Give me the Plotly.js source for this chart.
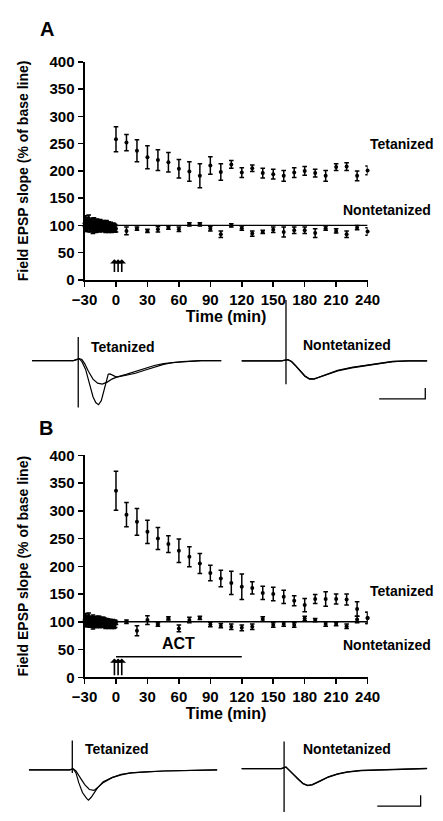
<!DOCTYPE html>
<html><head><meta charset="utf-8">
<script src="https://cdn.plot.ly/plotly-3.0.1.min.js"></script>
<style>html,body{margin:0;padding:0;background:#fff}#chart{width:443px;height:821px}</style>
</head><body><div id="chart"></div>
<script>
// ================= DATA =================
// Time after tetanus (min)
const timePost = [0,10,20,30,40,50,60,70,80,90,100,110,120,130,140,150,160,170,180,190,200,210,220,230,240];
// Base-line recording times (min)
const timeBase = [-30,-29,-28,-27,-26,-25,-24,-23,-22,-21,-20,-19,-18,-17,-16,-15,-14,-13,-12,-11,-10,-9,-8,-7,-6,-5,-4,-3,-2,-1];

// Panel A
const tetA_base    = [104,108,103,106,109,102,105,101,104,106,100,103,105,99,101,104,100,98,102,100,99,101,97,99,98,100,96,98,97,95];
const tetA_baseErr = [9,10,8,9,10,8,8,9,9,8,8,8,7,8,9,7,8,8,7,8,7,8,7,8,7,6,7,6,7,6];
const nonA_base    = [98,100,97,99,101,96,98,100,95,97,99,96,98,100,97,95,98,96,99,97,95,98,96,94,97,95,93,96,94,95];
const nonA_baseErr = [8,9,8,10,9,8,9,8,10,9,8,9,8,9,8,7,8,7,8,7,8,7,8,7,6,7,6,7,6,7];
const tetA    = [258,252,237,225,220,216,204,199,191,210,198,212,197,205,196,194,191,197,200,196,191,207,208,191,201];
const tetAErr = [23,15,20,21,19,18,17,18,22,16,15,7,9,6,9,9,10,9,8,7,10,6,7,9,8];
const nonA    = [94,90,94,90,93,96,93,102,102,94,84,100,95,85,88,92,88,91,91,86,95,90,84,96,89];
const nonAErr = [6,7,3,3,5,3,4,3,3,4,6,3,4,5,3,5,9,6,6,8,4,4,6,4,7];

// Panel B
const tetB_base    = [103,106,102,104,107,101,103,100,104,102,99,103,101,98,102,100,99,101,97,100,98,96,99,97,95,98,96,97,95,96];
const tetB_baseErr = [8,9,7,8,9,7,7,8,8,7,7,7,6,7,8,6,7,7,6,7,6,7,6,7,6,6,7,6,7,6];
const nonB_base    = [99,101,98,100,102,97,99,101,96,98,100,97,99,101,98,96,99,97,100,98,96,99,97,95,98,96,94,97,95,96];
const nonB_baseErr = [7,8,7,9,8,7,8,7,9,8,7,8,7,9,8,7,8,7,8,7,8,7,8,7,6,7,6,7,6,7];
const tetB    = [336,293,280,262,250,240,228,217,205,188,178,170,163,161,152,150,145,138,130,141,141,141,140,123,107];
const tetBErr = [35,22,24,21,20,15,21,18,18,14,15,21,23,11,12,12,12,9,12,8,13,9,10,13,10];
const nonB    = [98,100,84,103,95,106,88,103,107,95,93,91,89,91,105,94,96,94,106,103,96,96,92,104,107];
const nonBErr = [3,3,9,8,3,3,6,5,3,4,4,5,5,5,4,4,4,4,4,3,4,3,4,6,10];

const baseLevel = 100;              // % of base line
const tetanusTimes = [-1.5, 2, 5.5]; // arrows (min)
const actPeriod = [0, 120];          // ACT application (min)
const xTicks = [-30,0,30,60,90,120,150,180,210,240];
const yTicks = [0,50,100,150,200,250,300,350,400];

// Sample field EPSP traces (time in ms, voltage in mV)
const epspATetPre_t  = [-10,-5,-1,0.2,0.8,1.4,2.2,3.2,4.2,5.2,6.3,7.3,8.3,10.4,12.4,14.4,16.5,18.5,20.6,22.6,26.7,31];
const epspATetPre_v  = [0,0,0,0.09,0.05,-0.14,-0.5,-0.86,-1.05,-1.09,-1.0,-0.86,-0.77,-0.64,-0.5,-0.36,-0.23,-0.14,-0.09,-0.05,0,0];
const epspATetPost_t = [-10,-5,-1,0.2,0.8,1.6,2.4,3.2,3.8,4.4,5.0,5.6,6.1,6.5,6.9,7.5,8.3,10.4,12.4,14.4,16.5,18.5,20.6,22.6,26.7,31];
const epspATetPost_v = [0,0,0,0.09,-0.05,-0.41,-1.05,-1.68,-1.95,-2.05,-1.86,-1.32,-0.86,-0.64,-0.62,-0.68,-0.77,-0.68,-0.59,-0.45,-0.32,-0.18,-0.09,-0.05,0,0];
const epspATetArt_v  = [1.09,-2.18];
const epspANon_t  = [-9.6,-1,0.4,1.2,2.0,3.1,4.1,5.1,6.1,7.1,9.2,11.2,14.3,17.3,20.4,23.1,26.5,30.6];
const epspANon1_v = [0,0,0.06,-0.03,-0.21,-0.49,-0.71,-0.85,-0.85,-0.76,-0.58,-0.44,-0.3,-0.21,-0.12,-0.03,0,0];
const epspANon2_v = [0,0,0.06,-0.03,-0.2,-0.47,-0.7,-0.83,-0.84,-0.77,-0.6,-0.46,-0.32,-0.22,-0.13,-0.04,0,0];
const epspANonArt_v = [2.83,-1.08];
const scaleA_t = [20.2,30.2,30.2], scaleA_v = [-1.76,-1.76,-1.26];

const epspBTetPre_t  = [-9.4,-0.6,0.2,0.8,1.6,2.7,3.7,4.7,5.5,6.7,8.6,10.6,12.7,15.7,19.8,31.4];
const epspBTetPre_v  = [0,0,0.05,-0.05,-0.32,-0.68,-0.91,-0.95,-0.82,-0.59,-0.36,-0.23,-0.14,-0.09,-0.05,0];
const epspBTetPost_t = [-9.4,-0.6,0.2,0.8,1.4,2.2,3.1,3.5,4.1,4.7,5.5,6.7,8.6,10.6,12.7,15.7,19.8,31.4];
const epspBTetPost_v = [0,0,0.05,-0.14,-0.59,-1.05,-1.32,-1.4,-1.27,-1.05,-0.82,-0.55,-0.36,-0.2,-0.14,-0.09,-0.05,0];
const epspBTetArt_v  = [1.36,-0.14];
const epspBNon_t  = [-9.2,-0.6,0.4,1.2,2.0,3.1,4.1,5.1,6.1,7.6,9.6,11.6,13.7,16.7,22.9,31.0];
const epspBNon1_v = [0,0,0.08,-0.1,-0.29,-0.51,-0.7,-0.79,-0.74,-0.6,-0.38,-0.24,-0.15,-0.08,-0.04,0.01];
const epspBNon2_v = [0,0,0.07,-0.09,-0.28,-0.5,-0.69,-0.78,-0.75,-0.61,-0.39,-0.25,-0.16,-0.09,-0.05,0];
const epspBNonArt_v = [1.26,-2.01];
const scaleB_t = [20.2,29.6,29.6], scaleB_v = [-1.74,-1.74,-1.24];

// ================= LAYOUT HELPERS =================
const W = 443, H = 821;
const FONT = 'Liberation Sans, Arial, Helvetica, sans-serif';
const px = x => x / W, py = y => 1 - y / H;
const PXMS = 4.9, PXMV = 22;
function box(x0, x1, y0, y1, artX, baseY) {
  return {
    xd: [px(x0), px(x1)], xr: [(x0 - artX) / PXMS, (x1 - artX) / PXMS],
    yd: [py(y1), py(y0)], yr: [-(y1 - baseY) / PXMV, (baseY - y0) / PXMV]
  };
}
const bAL = box(17, 222, 295, 412, 69.3, 359);
const bAR = box(240, 442, 295, 412, 290, 359.3);
const bBL = box(14, 222, 740, 821, 63, 777);
const bBR = box(240, 442, 740, 821, 288, 775.7);

// ================= TRACES =================
const traces = [];
function errSeries(xa, ya, t, y, e) {
  traces.push({
    type: 'scatter', mode: 'markers', x: t, y: y, xaxis: xa, yaxis: ya,
    marker: {color: '#000', size: 4}, cliponaxis: false,
    error_y: {type: 'data', array: e, visible: true, color: '#000', thickness: 1.5, width: 2.3},
    showlegend: false, hoverinfo: 'skip'
  });
}
function line(xa, ya, x, y, w) {
  traces.push({type: 'scatter', mode: 'lines', x: x, y: y, xaxis: xa, yaxis: ya,
    line: {color: '#000', width: w}, showlegend: false, hoverinfo: 'skip'});
}
// Panel A
line('x', 'y', [xTicks[0], xTicks[xTicks.length - 1]], [baseLevel, baseLevel], 1.3);
errSeries('x', 'y', timeBase, tetA_base, tetA_baseErr);
errSeries('x', 'y', timeBase, nonA_base, nonA_baseErr);
errSeries('x', 'y', timePost, tetA, tetAErr);
errSeries('x', 'y', timePost, nonA, nonAErr);
// Panel B
line('x2', 'y2', [xTicks[0], xTicks[xTicks.length - 1]], [baseLevel, baseLevel], 1.3);
errSeries('x2', 'y2', timeBase, tetB_base, tetB_baseErr);
errSeries('x2', 'y2', timeBase, nonB_base, nonB_baseErr);
errSeries('x2', 'y2', timePost, tetB, tetBErr);
errSeries('x2', 'y2', timePost, nonB, nonBErr);
line('x2', 'y2', actPeriod, [37, 37], 1.3);
// EPSP traces
line('x3', 'y3', epspATetPre_t, epspATetPre_v, 1.2);
line('x3', 'y3', epspATetPost_t, epspATetPost_v, 1.2);
line('x3', 'y3', [0, 0], epspATetArt_v, 1.3);
line('x4', 'y4', epspANon_t, epspANon1_v, 1.3);
line('x4', 'y4', epspANon_t, epspANon2_v, 1.3);
line('x4', 'y4', [0, 0], epspANonArt_v, 1.3);
line('x4', 'y4', scaleA_t, scaleA_v, 1.3);
line('x5', 'y5', epspBTetPre_t, epspBTetPre_v, 1.2);
line('x5', 'y5', epspBTetPost_t, epspBTetPost_v, 1.2);
line('x5', 'y5', [0, 0], epspBTetArt_v, 1.3);
line('x6', 'y6', epspBNon_t, epspBNon1_v, 1.3);
line('x6', 'y6', epspBNon_t, epspBNon2_v, 1.3);
line('x6', 'y6', [0, 0], epspBNonArt_v, 1.3);
line('x6', 'y6', scaleB_t, scaleB_v, 1.3);

// ================= AXES =================
const tickFont = {family: FONT, size: 15, color: '#000', weight: 'bold'};
const titleFont = {family: FONT, size: 16, color: '#000', weight: 'bold'};
function mainX(dom, anchor) {
  return {domain: dom, anchor: anchor, range: [-30, 240], tickvals: xTicks, ticks: 'outside', ticklen: 5,
    tickwidth: 1.5, tickcolor: '#000', showline: true, linewidth: 2, linecolor: '#000', tickangle: 0,
    showgrid: false, zeroline: false, tickfont: tickFont, automargin: true,
    title: {text: 'Time (min)', font: titleFont, standoff: 4}};
}
function mainY(dom, anchor) {
  return {domain: dom, anchor: anchor, range: [0, 400], tickvals: yTicks, ticks: 'outside', ticklen: 5,
    tickwidth: 1.5, tickcolor: '#000', showline: true, linewidth: 2, linecolor: '#000',
    showgrid: false, zeroline: false, tickfont: tickFont, automargin: true,
    title: {text: 'Field EPSP slope (% of base line)', font: {family: FONT, size: 14, color: '#000', weight: 'bold'}, standoff: 18}};
}
function hid(dom, rng, anchor) {
  return {domain: dom, range: rng, anchor: anchor, visible: false, showgrid: false, zeroline: false, fixedrange: true};
}
const xDomMain = [px(76), px(376.7)];

const annFont = {family: FONT, size: 14, color: '#000', weight: 'bold'};
const ann = [];
function label(xr, yr, x, y, text, xanchor, size) {
  ann.push({xref: xr, yref: yr, x: x, y: y, text: text, showarrow: false, xanchor: xanchor || 'left', yanchor: 'middle',
    font: Object.assign({}, annFont, size ? {size: size} : {})});
}
label('x', 'y', 240, 249, 'Tetanized');
label('x', 'y', 215, 129, 'Nontetanized');
label('x2', 'y2', 240, 155, 'Tetanized');
label('x2', 'y2', 215, 58, 'Nontetanized');
label('x2', 'y2', 60, 60, 'ACT', 'center', 16);
label('paper', 'paper', px(81), py(345), 'Tetanized');
label('paper', 'paper', px(306), py(343), 'Nontetanized');
label('paper', 'paper', px(74), py(756), 'Tetanized');
label('paper', 'paper', px(306), py(756), 'Nontetanized');
ann.push({xref: 'paper', yref: 'paper', x: px(36), y: py(20), xanchor: 'center', yanchor: 'middle', text: 'A', showarrow: false, font: {family: FONT, size: 20, weight: 'bold', color: '#000'}});
ann.push({xref: 'paper', yref: 'paper', x: px(35), y: py(428), xanchor: 'center', yanchor: 'middle', text: 'B', showarrow: false, font: {family: FONT, size: 20, weight: 'bold', color: '#000'}});
tetanusTimes.forEach(t => {
  ann.push({xref: 'x', yref: 'y', axref: 'x', ayref: 'y', x: t, y: 38, ax: t, ay: 12, text: '', showarrow: true, arrowhead: 1, arrowsize: 0.9, arrowwidth: 1.6, arrowcolor: '#000'});
  ann.push({xref: 'x2', yref: 'y2', axref: 'x2', ayref: 'y2', x: t, y: 34, ax: t, ay: 1, text: '', showarrow: true, arrowhead: 1, arrowsize: 0.9, arrowwidth: 1.6, arrowcolor: '#000'});
});

const layout = {
  width: W, height: H, margin: {l: 0, r: 0, t: 0, b: 0, pad: 0},
  paper_bgcolor: '#fff', plot_bgcolor: 'rgba(0,0,0,0)', showlegend: false,
  font: {family: FONT, color: '#000'},
  xaxis: mainX(xDomMain, 'y'), yaxis: mainY([py(276.7), py(54)], 'x'),
  xaxis2: mainX(xDomMain, 'y2'), yaxis2: mainY([py(682.4), py(455.7)], 'x2'),
  xaxis3: hid(bAL.xd, bAL.xr, 'y3'), yaxis3: hid(bAL.yd, bAL.yr, 'x3'),
  xaxis4: hid(bAR.xd, bAR.xr, 'y4'), yaxis4: hid(bAR.yd, bAR.yr, 'x4'),
  xaxis5: hid(bBL.xd, bBL.xr, 'y5'), yaxis5: hid(bBL.yd, bBL.yr, 'x5'),
  xaxis6: hid(bBR.xd, bBR.xr, 'y6'), yaxis6: hid(bBR.yd, bBR.yr, 'x6'),
  annotations: ann
};
Plotly.newPlot('chart', traces, layout, {staticPlot: true, displayModeBar: false});
</script></body></html>
